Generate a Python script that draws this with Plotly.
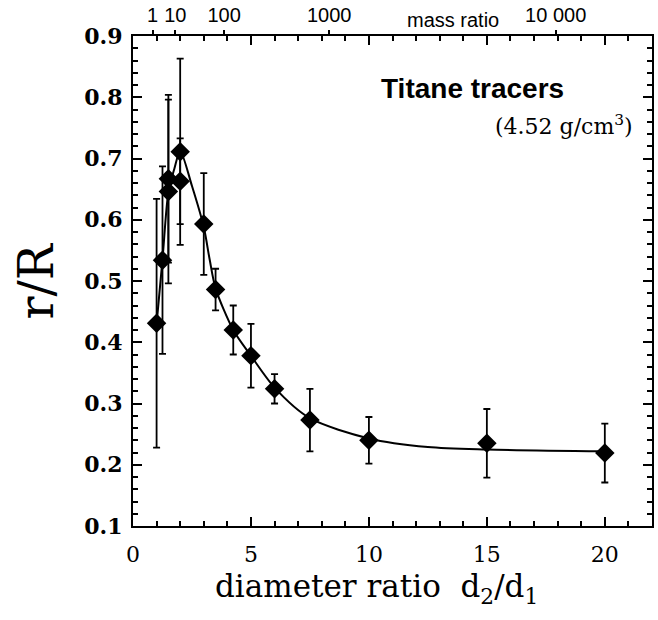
import plotly.graph_objects as go

# --- data ---
d_ratio = [1.0, 1.25, 1.5, 1.5, 2.0, 2.0, 3.0, 3.5, 4.25, 5.0, 6.0, 7.5, 10.0, 15.0, 20.0]
r_over_R = [0.431, 0.534, 0.667, 0.646, 0.711, 0.663, 0.593, 0.486, 0.420, 0.378, 0.324, 0.273, 0.240, 0.235, 0.219]
r_err = [0.203, 0.153, 0.137, 0.150, 0.152, 0.070, 0.083, 0.034, 0.040, 0.052, 0.024, 0.051, 0.038, 0.056, 0.048]

fit_x = [1.0, 1.25, 1.5, 1.75, 2.0, 2.5, 3.0, 3.25, 3.5, 4.25, 5.0, 6.0, 7.5, 10.0, 12.5, 15.0, 20.0]
fit_y = [0.430, 0.535, 0.645, 0.683, 0.712, 0.655, 0.588, 0.535, 0.488, 0.420, 0.378, 0.326, 0.276, 0.243, 0.229, 0.225, 0.222]

mass_ratio = [1, 10, 100, 1000, 10000]
mass_labels = ["1", "10", "100", "1000", "10 000"]
rho_tracer = 4.52
rho_bed = 2.6
mass_pos = [(m * rho_bed / rho_tracer) ** (1 / 3) for m in mass_ratio]

SERIF = "DejaVu Serif"
SANS = "Liberation Sans"

fig = go.Figure()

fig.add_trace(go.Scatter(
    x=fit_x, y=fit_y, mode="lines",
    line=dict(color="black", width=2, shape="spline", smoothing=0.8),
    hoverinfo="skip", showlegend=False))

fig.add_trace(go.Scatter(
    x=d_ratio, y=r_over_R, mode="markers",
    marker=dict(symbol="diamond", size=15, color="black"),
    error_y=dict(type="data", array=r_err, color="black", thickness=1.8, width=3.5),
    showlegend=False))

# invisible trace to carry the top (mass ratio) axis
fig.add_trace(go.Scatter(
    x=d_ratio, y=r_over_R, xaxis="x2", mode="markers",
    marker=dict(opacity=0), hoverinfo="skip", showlegend=False))

fig.update_layout(
    width=658, height=620,
    margin=dict(l=133, r=4, t=34, b=94),
    paper_bgcolor="white", plot_bgcolor="white",
    xaxis=dict(range=[0, 22], dtick=5, tick0=0, ticks="inside", ticklen=9, tickwidth=1.5,
               tickcolor="black", showline=True, linewidth=2, linecolor="black",
               mirror="ticks", showgrid=False, zeroline=False, ticklabelstandoff=8,
               minor=dict(dtick=1, ticks="inside", ticklen=5, tickwidth=1.5, tickcolor="black"),
               tickfont=dict(family=SERIF, size=22, color="black")),
    xaxis2=dict(range=[0, 22], overlaying="x", side="top", tickvals=mass_pos,
                ticktext=mass_labels, ticks="outside", ticklen=5, tickwidth=1.5,
                tickcolor="black", showline=False, showgrid=False, zeroline=False,
                tickfont=dict(family=SANS, size=20, color="black")),
    yaxis=dict(range=[0.1, 0.9], dtick=0.1, tick0=0.1, tickformat=".1f", ticks="inside",
               ticklen=9, tickwidth=1.5, tickcolor="black", showline=True, linewidth=2,
               linecolor="black", mirror="ticks", showgrid=False, zeroline=False,
               ticklabelstandoff=4,
               minor=dict(dtick=0.02, ticks="inside", ticklen=5, tickwidth=1.5, tickcolor="black"),
               tickfont=dict(family=SERIF, size=22, color="black", weight="bold")),
    annotations=[
        dict(text="mass ratio", x=13.55, xref="x", y=1, yref="paper", yanchor="bottom",
             yshift=3, showarrow=False, font=dict(family=SANS, size=20, color="black")),
        dict(text="<b>Titane tracers</b>", x=0.654, y=0.892, xref="paper", yref="paper",
             xanchor="center", yanchor="middle",
             showarrow=False, font=dict(family=SANS, size=28, color="black")),
        dict(text="(4.52 g/cm<sup>3</sup>)", x=0.967, y=0.819, xref="paper", yref="paper",
             xanchor="right", yanchor="middle", showarrow=False,
             font=dict(family=SERIF, size=22, color="black")),
        dict(text="r/R", x=-0.186, y=0.50, xref="paper", yref="paper", textangle=-90,
             xanchor="center", yanchor="middle",
             showarrow=False, font=dict(family=SERIF, size=48, color="black")),
        dict(text="diameter ratio  d<sub>2</sub>/d<sub>1</sub>", x=0.47, y=-0.128,
             xref="paper", yref="paper", xanchor="center", yanchor="middle", showarrow=False,
             font=dict(family=SERIF, size=31, color="black")),
    ],
)

fig.write_html("out.html")
